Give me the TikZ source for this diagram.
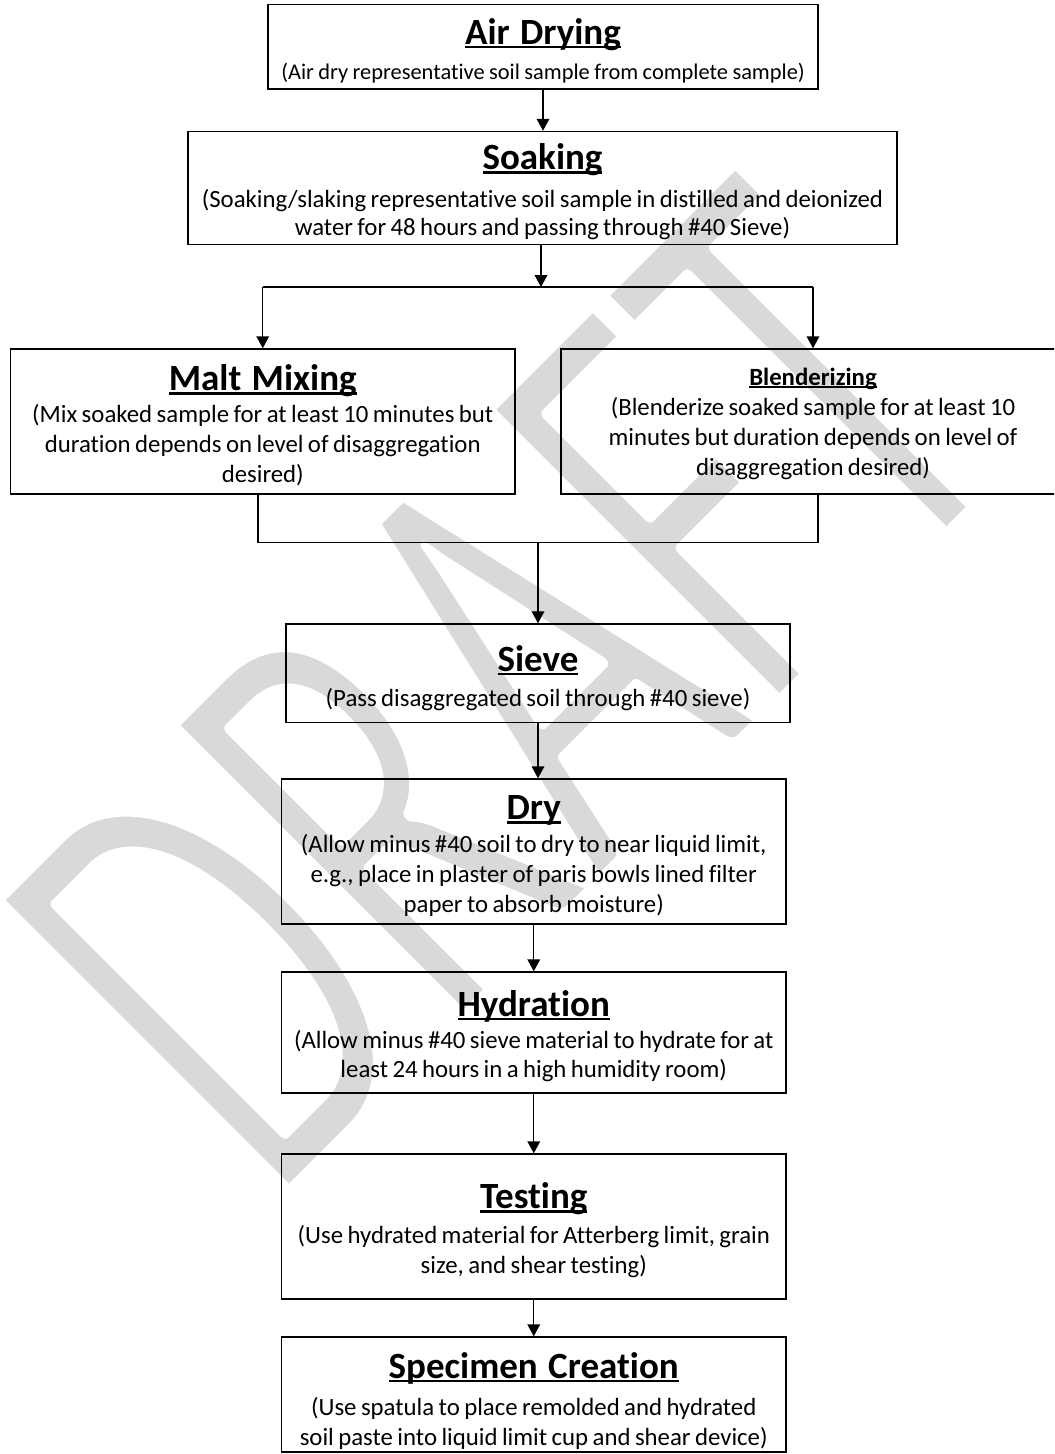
\documentclass[tikz,border=0pt]{standalone}
\usepackage{fontspec}
\setmainfont{Carlito}[Ligatures={NoCommon,NoContextual}]
\usetikzlibrary{arrows.meta}
\definecolor{wm}{RGB}{217,217,217}
\newcommand\ulword[1]{\setbox0=\hbox{#1}\rlap{\rule[-0.105em]{\wd0}{0.065em}}\box0}
\newcommand\lne[1]{\makebox[\hsize]{#1}\par}
\newcommand\ttl[2][25pt]{{\fontsize{27.75pt}{33pt}\selectfont\bfseries
  \spaceskip=0.28em\relax\lne{\rule{0pt}{#1}\ulword{#2}}}}
\newcommand\bdy{\fontsize{18.6pt}{22.5pt}\selectfont}
\newcommand\airf{\fontsize{16.8pt}{20.5pt}\selectfont}
\begin{document}
\begin{tikzpicture}[x=0.75pt,y=0.75pt,
  box/.style={draw, line width=1.1pt, inner sep=0pt, align=center},
  conn/.style={line width=1.1pt},
  arr/.style={line width=1.1pt, -{Triangle[length=9pt,width=9.5pt]}}]
\path[use as bounding box, clip] (0,0) rectangle (1054,-1454);
% watermark
\begin{scope}[shift={(271.5,-1210.5)}, rotate=45, xscale=0.619]
  \node[anchor=base west, inner sep=0pt, transform shape, text=wm,
        font=\fontsize{484pt}{484pt}\selectfont] (wmark)
    {\special{pdf:literal direct 2 Tr 10 w 1 1 1 RG 1 j}DRAFT\special{pdf:literal direct 0 Tr 0 0 0 RG 0 j}};
\end{scope}
% boxes
\node[box, text width=412.5pt, minimum height=63.4pt] (air) at (543,-46.75)
  {\ttl{Air Drying}\vspace{5.7pt}{\airf\lne{(Air dry representative soil sample from complete sample)}}};
\node[box, text width=531.75pt, minimum height=84.75pt] (soak) at (542.5,-188)
  {\ttl{Soaking}\vspace{7pt}{\fontsize{18.6pt}{21pt}\selectfont
   \lne{(Soaking/slaking representative soil sample in distilled and deionized}
   \lne{water for 48 hours and passing through \#40 Sieve)}}};
\node[box, text width=378.4pt, minimum height=108.75pt] (malt) at (262.75,-421.5)
  {\ttl{Malt Mixing}\vspace{1.25pt}{\bdy
   \lne{(Mix soaked sample for at least 10 minutes but}
   \lne{duration depends on level of disaggregation}
   \lne{desired)}}};
\node[box, text width=378pt, minimum height=108.75pt] (blend) at (813,-421.5)
  {{\bdy\bfseries\lne{\rule{0pt}{16pt}\ulword{Blenderizing}}}{\bdy
   \lne{(Blenderize soaked sample for at least 10}
   \lne{minutes but duration depends on level of}
   \lne{disaggregation desired)}}};
\node[box, text width=378pt, minimum height=73.9pt] (sieve) at (538,-673.25)
  {\ttl[27pt]{Sieve}\vspace{4pt}{\bdy
   \lne{(Pass disaggregated soil through \#40 sieve)}}};
\node[box, text width=378.4pt, minimum height=108.75pt] (dry) at (533.75,-851.5)
  {\ttl{Dry}\vspace{2pt}{\bdy
   \lne{(Allow minus \#40 soil to dry to near liquid limit,}
   \lne{e.g., place in plaster of paris bowls lined filter}
   \lne{paper to absorb moisture)}}};
\node[box, text width=378.4pt, minimum height=90.75pt] (hyd) at (533.75,-1032.5)
  {\ttl{Hydration}\vspace{2.8pt}{\fontsize{18.6pt}{21.5pt}\selectfont
   \lne{(Allow minus \#40 sieve material to hydrate for at}
   \lne{least 24 hours in a high humidity room)}}};
\node[box, text width=378.4pt, minimum height=108.75pt] (test) at (533.75,-1226.5)
  {\ttl{Testing}\vspace{3.5pt}{\bdy
   \lne{(Use hydrated material for Atterberg limit, grain}
   \lne{size, and shear testing)}}};
\node[box, text width=378.4pt, minimum height=86.25pt] (spec) at (533.75,-1394.5)
  {\ttl[29.5pt]{Specimen Creation}\vspace{5.5pt}{\bdy
   \lne{(Use spatula to place remolded and hydrated}
   \lne{soil paste into liquid limit cup and shear device)}}};
% connectors
\draw[arr] (air.south) -- (air.south |- soak.north);
\coordinate (split) at (541,-287);
\coordinate (splitL) at (malt.north |- split);
\coordinate (splitR) at (blend.north |- split);
\draw[arr] (soak.south -| split) -- (split);
\draw[conn] (splitL) -- (splitR);
\draw[arr] (splitL) -- (malt.north);
\draw[arr] (splitR) -- (blend.north);
\coordinate (joinL) at (258,-542.5);
\coordinate (joinR) at (818,-542.5);
\coordinate (join) at (sieve.north |- joinL);
\draw[conn] (joinL |- malt.south) -- (joinL) -- (joinR) -- (joinR |- blend.south);
\draw[arr] (join) -- (sieve.north);
\draw[arr] (sieve.south) -- (sieve.south |- dry.north);
\draw[arr] (dry.south) -- (hyd.north);
\draw[arr] (hyd.south) -- (test.north);
\draw[arr] (test.south) -- (spec.north);
\end{tikzpicture}
\end{document}
